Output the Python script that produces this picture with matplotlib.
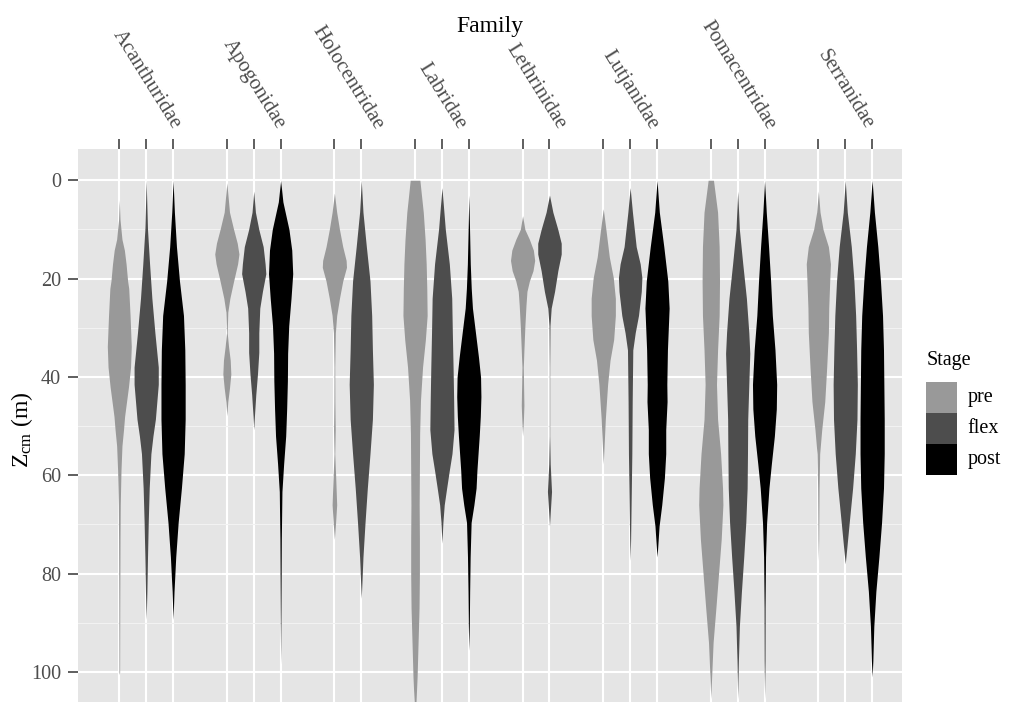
import matplotlib
matplotlib.use("Agg")
import matplotlib.pyplot as plt
import matplotlib.transforms as mtransforms
from matplotlib.patches import Rectangle

plt.rcParams["font.family"] = ["Liberation Serif", "DejaVu Serif"]
plt.rcParams["mathtext.fontset"] = "custom"
plt.rcParams["mathtext.rm"] = "Liberation Serif"
plt.rcParams["mathtext.it"] = "Liberation Serif:italic"

# ---------------------------------------------------------------- data
families = ["Acanthuridae", "Apogonidae", "Holocentridae", "Labridae",
            "Lethrinidae", "Lutjanidae", "Pomacentridae", "Serranidae"]
stages = ["pre", "flex", "post"]
stage_colors = {"pre": "#999999", "flex": "#4D4D4D", "post": "#000000"}
y_ticks = [0, 20, 40, 60, 80, 100]

# Violin outlines: depth of centre of mass (m) and relative width (1 = widest)
acan_pre_depth = [4, 8, 12, 14.2, 17, 20.5, 22, 27.5, 33.8, 38, 42, 45, 48, 50.7, 54, 59, 66, 73, 87, 100, 100.5]
acan_pre_width = [0, .06, .22, .42, .56, .69, .78, .89, .99, .93, .76, .6, .44, .35, .22, .14, .08, .06, .04, .03, 0]
acan_flex_depth = [0, 10, 17, 24, 31, 38, 41.5, 48.6, 52, 55.6, 62.6, 69.6, 76.6, 83.6, 89.3]
acan_flex_width = [0, .11, .28, .47, .72, 1, 1, .76, .56, .39, .25, .17, .11, .06, 0]
acan_post_depth = [0, 6.5, 13.5, 20.5, 27.5, 34.5, 41.5, 48.6, 55.6, 62.6, 69.6, 76.6, 83.6, 89.3]
acan_post_width = [0, .11, .28, .53, .86, .97, 1, 1, .92, .69, .42, .22, .08, 0]

apog_pre_depth = [0.5, 6.5, 10, 12.8, 15, 17, 20.5, 24, 26.8, 31, 33.8, 36.6, 39.4, 42.2, 45, 47.9]
apog_pre_width = [0, .22, .56, .86, 1, .89, .56, .25, .08, .03, .14, .28, .33, .22, .08, 0]
apog_flex_depth = [2.2, 6.5, 10, 13.5, 17, 19, 22.6, 26, 31, 35, 39.4, 43.6, 47.9, 50.7]
apog_flex_width = [0, .14, .42, .78, .94, 1, .72, .5, .42, .42, .31, .17, .06, 0]
apog_post_depth = [0, 4.4, 10, 14.2, 19, 24, 29.6, 35.2, 40.8, 46.5, 52, 57.7, 63.3, 73, 87, 98.4]
apog_post_width = [0, .19, .69, .92, 1, .86, .67, .58, .56, .5, .42, .25, .11, .06, .03, 0]

holo_pre_depth = [2.6, 6.5, 10, 13.5, 16.3, 17.7, 20.5, 24, 27.5, 31, 38, 45, 50.7, 55.6, 60.5, 66, 70.3, 73]
holo_pre_width = [0, .19, .42, .69, .97, 1, .69, .42, .19, .08, .03, .04, .07, .03, .11, .19, .08, 0]
holo_flex_depth = [0, 6.5, 13.5, 20.5, 27.5, 34.5, 41.5, 48.6, 55.6, 62.6, 69.6, 76.6, 81.5, 85]
holo_flex_width = [0, .14, .42, .72, .86, .92, 1, .92, .72, .5, .31, .14, .06, 0]

labr_pre_depth = [0, 6.5, 12, 17, 22, 27.5, 32.5, 38, 44.7, 51.5, 59, 66, 73, 80, 87, 94, 101, 106, 108]
labr_pre_width = [.4, .68, .83, .92, .97, 1, .85, .62, .45, .38, .36, .34, .36, .36, .33, .25, .17, .08, 0]
labr_flex_depth = [1.5, 10, 17, 24, 31, 38, 45, 50.7, 55.6, 59, 62.6, 66, 69.6, 73.8]
labr_flex_width = [0, .28, .61, .81, .86, .92, .97, 1, .83, .61, .39, .19, .08, 0]
labr_post_depth = [3, 10, 17, 22, 26, 31, 36, 40, 44, 48, 52, 59, 62.6, 66, 69.6, 76.6, 83.6, 90.7, 95.6]
labr_post_width = [0, .06, .12, .2, .3, .55, .8, .97, 1, .95, .86, .67, .6, .42, .19, .11, .07, .04, 0]

leth_pre_depth = [7.2, 10, 12, 14.2, 16.3, 18.4, 20.5, 22.6, 25.4, 29.6, 34.5, 38, 41.5, 45.8, 49.3, 52]
leth_pre_width = [0, .19, .56, .89, 1, .86, .56, .36, .28, .19, .11, .06, .08, .11, .06, 0]
leth_flex_depth = [3, 6.5, 10, 12.8, 15, 18.4, 22.6, 26, 29.6, 38, 52, 57.7, 63.3, 66.9, 70.3]
leth_flex_width = [0, .28, .69, .97, .97, .69, .42, .14, .04, .015, .015, .06, .17, .08, 0]

lutj_pre_depth = [5.8, 10, 15.6, 19.8, 24, 27.5, 32.4, 36.6, 41.5, 48.6, 53.5, 57.7]
lutj_pre_width = [0, .22, .5, .83, 1, 1, .86, .56, .36, .17, .08, 0]
lutj_flex_depth = [1.5, 6.5, 13.5, 17, 19.8, 22.6, 27.5, 31, 34.5, 45, 55.6, 66, 73, 77.3]
lutj_flex_width = [0, .19, .5, .83, .97, .92, .69, .42, .22, .17, .14, .08, .04, 0]
lutj_post_depth = [0, 6.5, 13.5, 20.5, 26, 34.5, 41.5, 45, 50.7, 55.6, 60.5, 66, 70.3, 74.5, 76.6]
lutj_post_width = [0, .19, .56, .89, 1, .86, .81, .83, .72, .72, .61, .39, .17, .06, 0]

poma_pre_depth = [0, 6.5, 13.5, 20.5, 27.5, 34.5, 41.5, 48.6, 55.6, 62.6, 66, 73, 80, 87, 94, 101, 105.4]
poma_pre_width = [.22, .56, .69, .72, .69, .56, .47, .56, .81, .97, 1, .86, .64, .42, .19, .07, 0]
poma_flex_depth = [2.2, 10, 17, 24, 31, 35.2, 41.5, 48.6, 55.6, 62.6, 69.6, 76.6, 83.6, 90.7, 97.7, 105.4]
poma_flex_width = [0, .14, .42, .72, .92, 1, .92, .83, .81, .78, .67, .5, .31, .14, .06, 0]
poma_post_depth = [0, 6.5, 13.5, 20.5, 27.5, 34.5, 41.5, 46.5, 52, 57.7, 62.6, 69.6, 76.6, 87, 97.7, 105.4]
poma_post_width = [0, .14, .33, .5, .64, .86, 1, .97, .81, .56, .36, .17, .08, .04, .03, 0]

serr_pre_depth = [2.2, 6.5, 10, 13.5, 17, 20.5, 26, 31, 38, 45, 50.7, 55.6, 62.6, 73, 77.3]
serr_pre_width = [0, .14, .39, .83, 1, .94, .86, .83, .69, .53, .28, .11, .06, .03, 0]
serr_flex_depth = [0, 6.5, 13.5, 20.5, 27.5, 34.5, 41.5, 48.6, 55.6, 62.6, 69.6, 74.5, 78]
serr_flex_width = [0, .17, .5, .72, .86, .94, 1, .97, .83, .61, .33, .14, 0]
serr_post_depth = [0, 6.5, 13.5, 20.5, 27.5, 34.5, 41.5, 48.6, 55.6, 62.6, 69.6, 76.6, 83.6, 90.7, 97.7, 101]
serr_post_width = [0, .19, .47, .69, .86, .94, .97, 1, 1, .94, .78, .56, .31, .14, .06, 0]

violins = {
    "Acanthuridae": [("pre", acan_pre_depth, acan_pre_width),
                     ("flex", acan_flex_depth, acan_flex_width),
                     ("post", acan_post_depth, acan_post_width)],
    "Apogonidae": [("pre", apog_pre_depth, apog_pre_width),
                   ("flex", apog_flex_depth, apog_flex_width),
                   ("post", apog_post_depth, apog_post_width)],
    "Holocentridae": [("pre", holo_pre_depth, holo_pre_width),
                      ("flex", holo_flex_depth, holo_flex_width)],
    "Labridae": [("pre", labr_pre_depth, labr_pre_width),
                 ("flex", labr_flex_depth, labr_flex_width),
                 ("post", labr_post_depth, labr_post_width)],
    "Lethrinidae": [("pre", leth_pre_depth, leth_pre_width),
                    ("flex", leth_flex_depth, leth_flex_width)],
    "Lutjanidae": [("pre", lutj_pre_depth, lutj_pre_width),
                   ("flex", lutj_flex_depth, lutj_flex_width),
                   ("post", lutj_post_depth, lutj_post_width)],
    "Pomacentridae": [("pre", poma_pre_depth, poma_pre_width),
                      ("flex", poma_flex_depth, poma_flex_width),
                      ("post", poma_post_depth, poma_post_width)],
    "Serranidae": [("pre", serr_pre_depth, serr_pre_width),
                   ("flex", serr_flex_depth, serr_flex_width),
                   ("post", serr_post_depth, serr_post_width)],
}

# ---------------------------------------------------------------- figure
W, H, DPI = 1011, 702, 100
fig = plt.figure(figsize=(W / DPI, H / DPI), dpi=DPI)
fig.patch.set_facecolor("white")

left_px, right_px, top_px = 78, 901.7, 149
ax = fig.add_axes([left_px / W, 0, (right_px - left_px) / W, (H - top_px) / H])
ax.set_facecolor("#E5E5E5")
for sp in ax.spines.values():
    sp.set_visible(False)

half_width = 0.45
tick_positions = []
family_centres = []
pos = 0
for fam in families:
    start = pos
    for stage, depth, width in violins[fam]:
        ax.fill_betweenx(depth,
                         [pos - half_width * w for w in width],
                         [pos + half_width * w for w in width],
                         color=stage_colors[stage], lw=0, zorder=3)
        tick_positions.append(pos)
        pos += 1
    family_centres.append((start + pos - 1) / 2)
    pos += 1

ax.set_xlim(-1.536, 29.1)
ax.set_ylim(106.1, -6.36)

ax.set_xticks(tick_positions)
ax.set_xticklabels([])
ax.xaxis.tick_top()
ax.set_yticks(y_ticks)
ax.set_yticklabels([str(v) for v in y_ticks])
ax.set_yticks([10, 30, 50, 70, 90], minor=True)

ax.tick_params(axis="both", which="major", length=7.4, width=1.1,
               color="#333333", labelcolor="#4D4D4D", labelsize=14.5, pad=4.8)
ax.tick_params(axis="y", which="minor", length=0)
ax.tick_params(axis="x", which="both", bottom=False, labelbottom=False)

ax.grid(which="major", color="white", lw=1.5, zorder=1)
ax.grid(which="minor", axis="y", color="#F2F2F2", lw=0.8, zorder=1)
ax.set_axisbelow(True)

# family names above each group of violins
lab_trans = mtransforms.offset_copy(
    mtransforms.blended_transform_factory(ax.transData, ax.transAxes),
    fig=fig, x=0, y=16 * 72 / DPI, units="points")
for fam, xc in zip(families, family_centres):
    ax.text(xc, 1, fam, transform=lab_trans, rotation=-58,
            rotation_mode="default", ha="center", va="bottom",
            fontsize=15, color="#4D4D4D")

fig.text((left_px + right_px) / 2 / W, 1 - 31.7 / H, "Family",
         ha="center", va="baseline", fontsize=17, color="black")
fig.text(22 / W, 1 - 430 / H, r"$\mathrm{Z_{cm}}$ (m)", rotation=90,
         ha="center", va="center", fontsize=17, color="black")

# legend
fig.text(927 / W, 1 - 365 / H, "Stage", ha="left", va="baseline",
         fontsize=14.5, color="black")
key_x, key_y, key_size = 926, 381.7, 31
for i, stage in enumerate(stages):
    y0 = key_y + i * key_size
    fig.add_artist(Rectangle((key_x / W, 1 - (y0 + key_size) / H),
                             key_size / W, key_size / H,
                             transform=fig.transFigure,
                             facecolor=stage_colors[stage], edgecolor="none"))
    fig.text(967.7 / W, 1 - (y0 + key_size / 2 + 4.7) / H, stage,
             ha="left", va="baseline", fontsize=14.5, color="black")

fig.savefig("out.png", dpi=DPI)
